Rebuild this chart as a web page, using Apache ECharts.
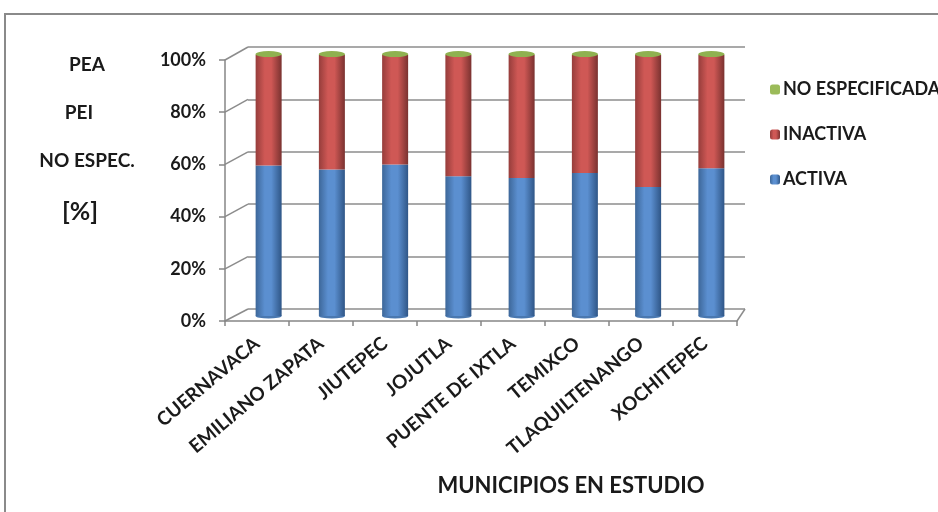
<!DOCTYPE html>
<html>
<head>
<meta charset="utf-8">
<script src="https://cdn.jsdelivr.net/npm/echarts@6/dist/echarts.min.js"></script>
<style>
  html, body { margin: 0; padding: 0; background: #fff; }
  #chart { width: 938px; height: 512px; }
</style>
</head>
<body>
<div id="chart"></div>
<script>
var municipios = ['CUERNAVACA', 'EMILIANO ZAPATA', 'JIUTEPEC', 'JOJUTLA', 'PUENTE DE IXTLA', 'TEMIXCO', 'TLAQUILTENANGO', 'XOCHITEPEC'];
var activa = [57.4, 55.9, 57.8, 53.3, 52.7, 54.6, 49.2, 56.4];
var inactiva = [42.2, 43.7, 41.8, 46.3, 46.9, 45.0, 50.4, 43.2];
var noEspecificada = [0.4, 0.4, 0.4, 0.4, 0.4, 0.4, 0.4, 0.4];
var yTicks = [0, 20, 40, 60, 80, 100];

var totals = activa.map(function (v, i) { return v + inactiva[i] + noEspecificada[i]; });

var dom = document.getElementById('chart');
var myChart = echarts.init(dom, null, { renderer: 'canvas' });

var font = 'Lato, "Open Sans", sans-serif';
var ink = '#1a1a1a';

function cyl(c1, c2, c3) {
  return {
    type: 'linear', x: 0, y: 0, x2: 1, y2: 0,
    colorStops: [
      { offset: 0, color: c1 },
      { offset: 0.35, color: c2 },
      { offset: 0.6, color: c2 },
      { offset: 1, color: c3 }
    ]
  };
}

var option = {
  animation: false,
  textStyle: { fontFamily: font },
  grid: [
    // back wall
    { left: 248, top: 47, width: 497, height: 262 },
    // bars
    { left: 237, top: 54, width: 506, height: 262 },
    // front axes
    { left: 225, top: 60, width: 512, height: 261 }
  ],
  xAxis: [
    { gridIndex: 0, type: 'category', data: municipios, show: false },
    { gridIndex: 1, type: 'category', data: municipios, show: false },
    {
      gridIndex: 2, type: 'category', data: municipios,
      axisLine: { lineStyle: { color: '#868686', width: 1.5 } },
      axisTick: { show: true, length: 5, lineStyle: { color: '#868686', width: 1.5 } },
      axisLabel: { rotate: 40, margin: 20, color: ink, fontWeight: 'bold', fontSize: 19, fontFamily: font }
    }
  ],
  yAxis: [
    {
      gridIndex: 0, type: 'value', min: 0, max: 100, interval: 20,
      axisLine: { show: false }, axisTick: { show: false }, axisLabel: { show: false },
      splitLine: { lineStyle: { color: '#8c8c8c', width: 1.5 } }
    },
    { gridIndex: 1, type: 'value', min: 0, max: 100, show: false },
    {
      gridIndex: 2, type: 'value', min: 0, max: 100, interval: 20,
      axisLine: { show: true, lineStyle: { color: '#868686', width: 1.5 } },
      axisTick: { show: true, length: 6, lineStyle: { color: '#868686', width: 1.5 } },
      splitLine: { show: false },
      axisLabel: { margin: 19, color: ink, fontWeight: 'bold', fontSize: 18, fontFamily: font, formatter: '{value}%' }
    }
  ],
  legend: {
    orient: 'vertical',
    left: 765,
    top: 75,
    itemWidth: 10,
    itemHeight: 10,
    itemGap: 26,
    data: ['NO ESPECIFICADA', 'INACTIVA', 'ACTIVA'],
    textStyle: { color: ink, fontWeight: 'bold', fontSize: 18, fontFamily: font, lineHeight: 19, padding: [0, 0, 0, -2] }
  },
  series: [
    {
      name: 'ACTIVA', type: 'bar', stack: 'total', xAxisIndex: 1, yAxisIndex: 1,
      barWidth: 26, data: activa,
      itemStyle: { color: cyl('#3d6799', '#5b8fd0', '#2f5687') }
    },
    {
      name: 'INACTIVA', type: 'bar', stack: 'total', xAxisIndex: 1, yAxisIndex: 1,
      barWidth: 26, data: inactiva,
      itemStyle: { color: cyl('#963d3b', '#cf5855', '#7a3230') }
    },
    {
      name: 'NO ESPECIFICADA', type: 'bar', stack: 'total', xAxisIndex: 1, yAxisIndex: 1,
      barWidth: 26, data: noEspecificada,
      itemStyle: { color: '#9bbb59' }
    },
    {
      // round bottom of the cylinders
      name: 'bottom', type: 'pictorialBar', xAxisIndex: 1, yAxisIndex: 1,
      symbol: 'circle', symbolSize: [26, 5], symbolOffset: [0, '50%'],
      data: activa.map(function () { return 0; }),
      itemStyle: { color: '#4a78b0' }, z: 1
    },
    {
      // top cap
      name: 'cap', type: 'pictorialBar', xAxisIndex: 1, yAxisIndex: 1,
      symbol: 'circle', symbolSize: [26, 6], symbolPosition: 'end', symbolOffset: [0, '-50%'],
      data: totals,
      itemStyle: { color: '#8fb150', borderColor: '#a9c96a', borderWidth: 0.5 }, z: 3
    }
  ],
  graphic: [
    { type: 'rect', shape: { x: 5, y: 14, width: 1200, height: 700 }, style: { fill: 'none', stroke: '#8a8a8a', lineWidth: 2 }, silent: true },
    { type: 'text', x: 87, y: 65, style: { text: 'PEA', font: 'bold 19px ' + font, fill: ink, align: 'center', verticalAlign: 'middle' } },
    { type: 'text', x: 79, y: 113, style: { text: 'PEI', font: 'bold 19px ' + font, fill: ink, align: 'center', verticalAlign: 'middle' } },
    { type: 'text', x: 87, y: 161, style: { text: 'NO ESPEC.', font: 'bold 19px ' + font, fill: ink, align: 'center', verticalAlign: 'middle' } },
    { type: 'text', x: 80, y: 212, style: { text: '[%]', font: 'bold 25px ' + font, fill: ink, align: 'center', verticalAlign: 'middle' } },
    { type: 'text', x: 571, y: 486, style: { text: 'MUNICIPIOS EN ESTUDIO', font: 'bold 22px ' + font, fill: ink, align: 'center', verticalAlign: 'middle' } }
  ]
};

myChart.setOption(option);

// perspective connectors from front axis to back wall
var extra = [];
yTicks.forEach(function (t) {
  var f = myChart.convertToPixel({ gridIndex: 2 }, [0, t]);
  var b = myChart.convertToPixel({ gridIndex: 0 }, [0, t]);
  extra.push({
    type: 'line', silent: true,
    shape: { x1: 225, y1: f[1], x2: 248, y2: b[1] },
    style: { stroke: '#8c8c8c', lineWidth: 1.5 }
  });
});
var f0 = myChart.convertToPixel({ gridIndex: 2 }, [0, 0]);
var b0 = myChart.convertToPixel({ gridIndex: 0 }, [0, 0]);
extra.push({
  type: 'line', silent: true,
  shape: { x1: 737, y1: f0[1], x2: 745, y2: b0[1] },
  style: { stroke: '#8c8c8c', lineWidth: 1.5 }
});
myChart.setOption({ graphic: option.graphic.concat(extra) });

window.addEventListener('resize', myChart.resize);
</script>
</body>
</html>
